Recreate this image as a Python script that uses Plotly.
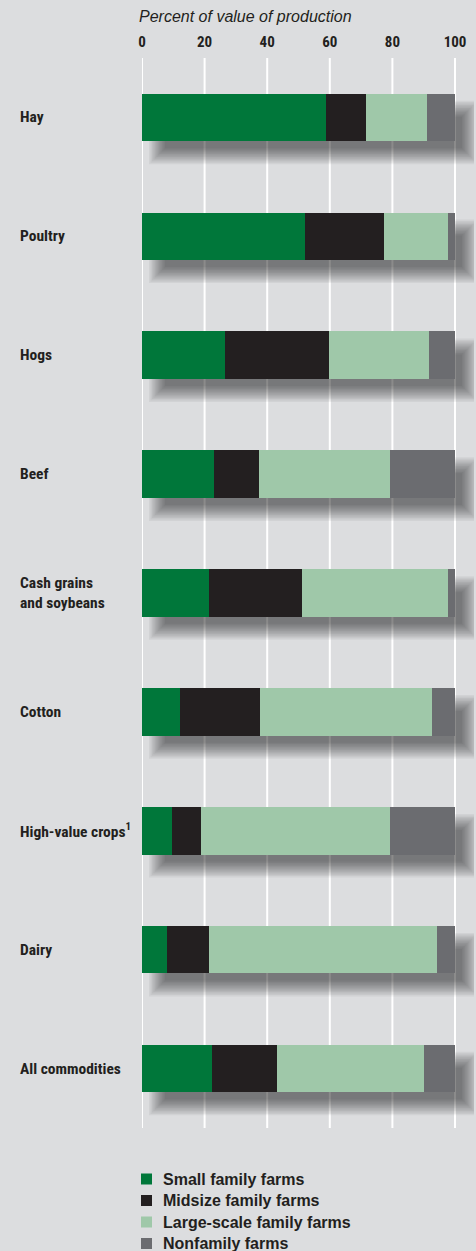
import plotly.graph_objects as go

categories = ["Hay", "Poultry", "Hogs", "Beef", "Cash grains<br>and soybeans",
              "Cotton", "High-value crops<sup>1</sup>", "Dairy", "All commodities"]
series_names = ["Small family farms", "Midsize family farms",
                "Large-scale family farms", "Nonfamily farms"]
small_family = [58.8, 52.1, 26.5, 23.0, 21.4, 12.1, 9.6, 8.0, 22.4]
midsize_family = [12.8, 25.2, 33.2, 14.4, 29.7, 25.6, 9.3, 13.4, 20.7]
large_family = [19.5, 20.5, 32.0, 41.8, 46.7, 55.0, 60.3, 72.8, 47.0]
nonfamily = [8.9, 2.2, 8.3, 20.8, 2.2, 7.3, 20.8, 5.8, 9.9]
tick_values = [0, 20, 40, 60, 80, 100]
axis_title = "Percent of value of production"

colors = ["#00773a", "#231f20", "#9fc8a9", "#6b6c70"]
bg = "#dcdddf"
text_color = "#231f20"
narrow = "Liberation Sans Narrow, Arial Narrow, Roboto Condensed, Liberation Sans, Arial, sans-serif"
regular = "Liberation Sans, Arial, Helvetica, sans-serif"

W, H = 476, 1251
ml, mr, mt, mb = 142, 2, 58, 123
plot_w = W - ml - mr
plot_h = H - mt - mb
px_per_x = 3.13
x_max = plot_w / px_per_x
n = len(categories)
px_per_y = plot_h / n
bar_w = 0.40


def xp(px):
    return (px - ml) / plot_w


def yp(py):
    return (H - mb - py) / plot_h


ypos = list(range(n))
series = [small_family, midsize_family, large_family, nonfamily]

fig = go.Figure()

for name, vals, col in zip(series_names, series, colors):
    fig.add_trace(go.Bar(
        x=vals, y=ypos, orientation="h", name=name,
        marker=dict(color=col, line=dict(width=0)),
        width=bar_w, showlegend=False,
        hoverinfo="x+name",
    ))

shapes = []
# vertical white gridlines at the tick values (drawn first, under the shadows)
for v in tick_values:
    shapes.append(dict(
        type="line", xref="x", yref="paper", x0=v, x1=v, y0=0, y1=1,
        line=dict(color="white", width=2), layer="below",
    ))

# drop shadows: blur simulated by stacked translucent rectangles
off_px = 15
blur_steps = 12
blur_px = 8
for i in ypos:
    total = sum(s[i] for s in series)
    for k in range(blur_steps):
        inset = -blur_px + k * (2 * blur_px) / (blur_steps - 1)
        shapes.append(dict(
            type="rect", xref="x", yref="y", layer="below",
            x0=(off_px + inset) / px_per_x,
            x1=total + (off_px - inset) / px_per_x,
            y0=i - bar_w / 2 + (off_px + inset) / px_per_y,
            y1=i + bar_w / 2 + (off_px - inset) / px_per_y,
            line=dict(width=0), fillcolor="rgba(0,0,0,0.046)",
        ))

annotations = []
for i, c in enumerate(categories):
    annotations.append(dict(
        x=xp(18), xref="paper", y=i, yref="y",
        xanchor="left", yanchor="middle", align="left", showarrow=False,
        text=c, font=dict(family=narrow, size=15.5, color=text_color, weight="bold"),
    ))
annotations.append(dict(
    x=xp(137), xref="paper", y=yp(17), yref="paper",
    xanchor="left", yanchor="middle", showarrow=False,
    text="<i>" + axis_title + "</i>",
    font=dict(family=regular, size=16, color=text_color),
))

# legend (square swatches + labels)
legend_rows = [1179, 1200.5, 1222, 1243.5]
for name, col, ry in zip(series_names, colors, legend_rows):
    shapes.append(dict(
        type="rect", xref="paper", yref="paper",
        x0=xp(141), x1=xp(152), y0=yp(ry + 5.5), y1=yp(ry - 5.5),
        line=dict(width=0), fillcolor=col, layer="above",
    ))
    annotations.append(dict(
        x=xp(161), xref="paper", y=yp(ry), yref="paper",
        xanchor="left", yanchor="middle", showarrow=False, text=name,
        font=dict(family=regular, size=16, color=text_color, weight="bold"),
    ))

fig.update_layout(
    width=W, height=H,
    margin=dict(l=ml, r=mr, t=mt, b=mb, pad=0, autoexpand=False),
    paper_bgcolor=bg, plot_bgcolor=bg,
    barmode="stack",
    bargap=0,
    showlegend=False,
    xaxis=dict(
        side="top", range=[0, x_max], tickvals=tick_values,
        ticktext=[str(v) for v in tick_values],
        showgrid=False, zeroline=False,
        showline=False, ticks="", ticklabelstandoff=7,
        tickfont=dict(family=narrow, size=15, color=text_color, weight="bold"),
        fixedrange=True,
    ),
    yaxis=dict(
        range=[n - 0.5, -0.5], showticklabels=False, showgrid=False,
        zeroline=False, showline=False, ticks="", fixedrange=True,
    ),
    shapes=shapes,
    annotations=annotations,
)

fig.write_html(
    "out.html",
    config={"displayModeBar": False},
    post_script="document.body.style.margin='0';document.body.style.overflow='hidden';",
)
